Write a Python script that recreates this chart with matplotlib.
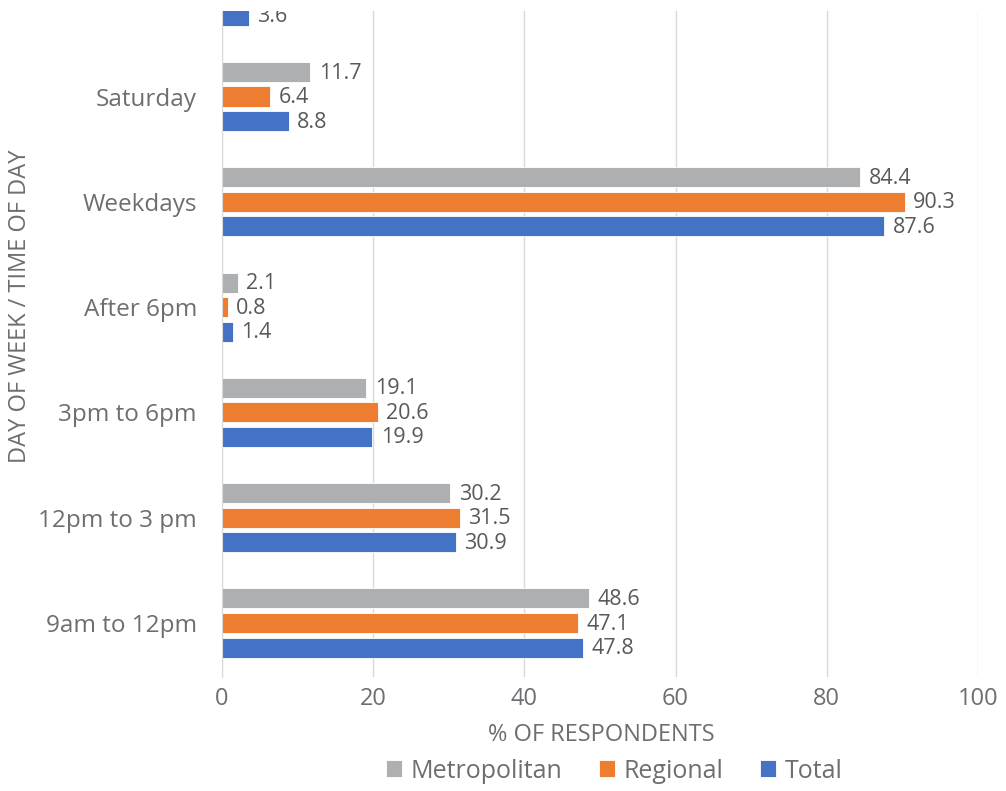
import numpy as np
import matplotlib
matplotlib.use('Agg')
import matplotlib.pyplot as plt

plt.rcParams['font.family'] = ['Open Sans', 'DejaVu Sans']

categories = ['9am to 12pm', '12pm to 3 pm', '3pm to 6pm', 'After 6pm',
              'Weekdays', 'Saturday', 'Sunday']
metropolitan = [48.6, 30.2, 19.1, 2.1, 84.4, 11.7, np.nan]
regional = [47.1, 31.5, 20.6, 0.8, 90.3, 6.4, np.nan]
total = [47.8, 30.9, 19.9, 1.4, 87.6, 8.8, 3.6]

series = [('Metropolitan', metropolitan, '#AEAFB1'),
          ('Regional', regional, '#ED7D31'),
          ('Total', total, '#4472C4')]

txt = '#6D6E71'
lbl = '#58595B'
W, H = 1006, 791
fig = plt.figure(figsize=(W/100, H/100), dpi=100)
# axes box in pixels: left 222, right 978, top 11, bottom 677
ax = fig.add_axes([222/W, 1-677/H, (978-222)/W, (677-11)/H])

y = np.arange(len(categories))
bh = 0.19
step = 0.233
handles = []
for k, (name, vals, col) in enumerate(series):
    pos = y + (1-k)*step
    b = ax.barh(pos, vals, height=bh, color=col, edgecolor='white', linewidth=0.6,
                label=name, zorder=3)
    handles.append(b)
    for p, v in zip(pos, vals):
        if np.isnan(v):
            continue
        ax.text(v + 1.1, p - 0.01, f'{v:.1f}', va='center', ha='left', fontsize=15.5,
                color=lbl, clip_on=True, zorder=4)

ax.set_xticks([0, 20, 40, 60, 80, 100])
ax.set_yticks(y)
ax.set_yticklabels(categories)
# limits after the ticks, so set_yticks can't widen them
ax.set_xlim(0, 100)
ax.set_ylim(-0.513, 5.812)
ax.tick_params(axis='x', labelsize=17, colors=txt, length=0, pad=7)
ax.tick_params(axis='y', labelsize=17.5, colors=txt, length=0, pad=18)
ax.grid(axis='x', color='#D9D9D9', linewidth=1, zorder=0)
for s in ['top', 'right', 'bottom']:
    ax.spines[s].set_visible(False)
ax.spines['left'].set_color('#D9D9D9')
ax.spines['left'].set_zorder(5)

fig.text(601/W, 1-735/H, '% OF RESPONDENTS', ha='center', va='center',
         fontsize=17, color=txt)
fig.text(20/W, 1-306/H, 'DAY OF WEEK / TIME OF DAY', ha='center', va='center',
         rotation=90, fontsize=17, color=txt)
fig.legend(handles=handles, loc='center', bbox_to_anchor=(614/W, 1-771/H),
           ncol=3, frameon=False, fontsize=18, labelcolor=txt,
           handlelength=0.65, handleheight=0.65, handletextpad=0.35,
           columnspacing=1.45)

fig.savefig('out.png', dpi=100)
